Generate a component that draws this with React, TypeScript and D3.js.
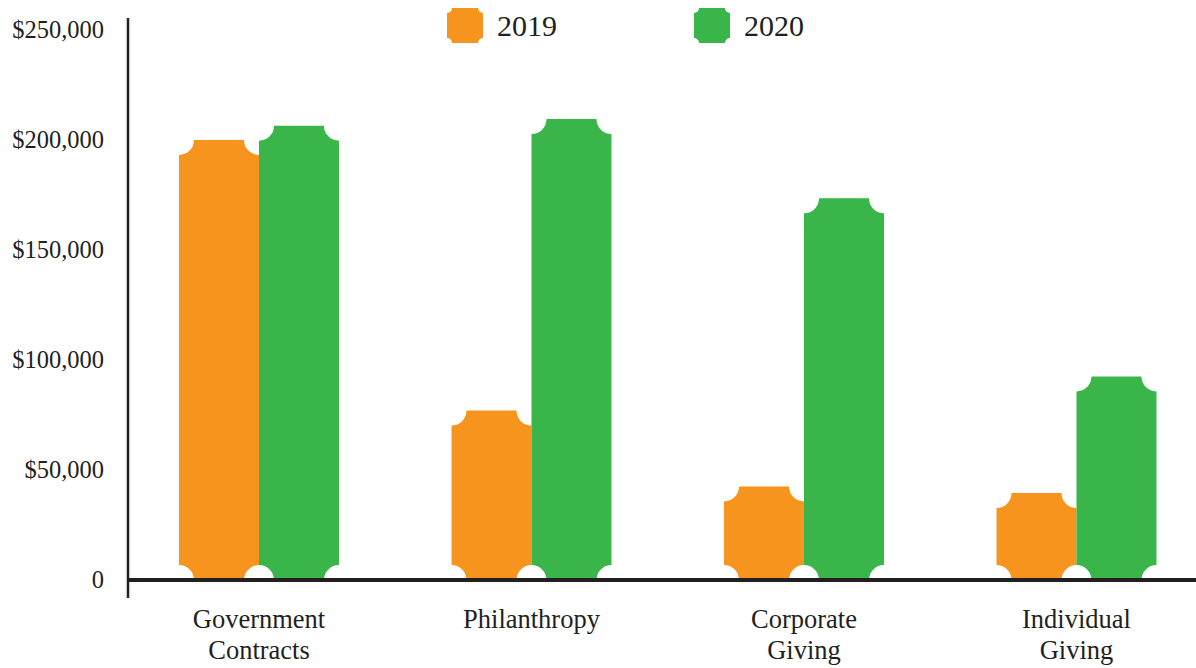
import * as d3 from 'd3'

const categories = ['Government Contracts', 'Philanthropy', 'Corporate Giving', 'Individual Giving']
const categoryLines = [['Government', 'Contracts'], ['Philanthropy'], ['Corporate', 'Giving'], ['Individual', 'Giving']]
const seriesNames = ['2019', '2020']
const values2019 = [200000, 77000, 42500, 39500]
const values2020 = [206500, 209500, 173500, 92500]
const yTicks = [0, 50000, 100000, 150000, 200000, 250000]

const W = 1196
const H = 668
const orange = '#F7941D'
const green = '#39B54A'
const ink = '#231F20'
const font = '"Liberation Serif", "Times New Roman", serif'

// rectangle with scooped (concave) corners
const scoopRect = (x0: number, y0: number, x1: number, y1: number, r: number) =>
  `M${x0},${y0 + r}A${r},${r} 0 0 0 ${x0 + r},${y0}` +
  `L${x1 - r},${y0}A${r},${r} 0 0 0 ${x1},${y0 + r}` +
  `L${x1},${y1 - r}A${r},${r} 0 0 0 ${x1 - r},${y1}` +
  `L${x0 + r},${y1}A${r},${r} 0 0 0 ${x0},${y1 - r}Z`

const App = () => {
  const y = d3.scaleLinear().domain([0, 250000]).range([580, 30])
  const x = d3
    .scaleBand()
    .domain(categories)
    .range([122.75, 1212.75])
    .paddingInner(0.413)
    .paddingOuter(0.2065)
  const sub = d3.scaleBand().domain(seriesNames).range([0, x.bandwidth()])
  const colors = [orange, green]
  const series = [values2019, values2020]
  const fmt = d3.format(',')

  return (
    <svg
      width={W}
      height={H}
      style={{ position: 'absolute', left: 0, top: 0, background: '#fff' }}
      fontFamily={font}
    >
      {series.map((vals, si) =>
        categories.map((c, ci) => {
          const x0 = (x(c) ?? 0) + (sub(seriesNames[si]) ?? 0)
          const x1 = x0 + sub.bandwidth()
          return (
            <path
              key={`${si}-${ci}`}
              d={scoopRect(x0, y(vals[ci]), x1, y(0), 15)}
              fill={colors[si]}
            />
          )
        }),
      )}

      {/* axes */}
      <line x1={128} x2={128} y1={18} y2={598} stroke={ink} strokeWidth={2.5} />
      <line x1={127} x2={W} y1={y(0)} y2={y(0)} stroke={ink} strokeWidth={4} />

      {yTicks.map((t) => (
        <text
          key={t}
          x={104}
          y={y(t)}
          dy="0.33em"
          textAnchor="end"
          fontSize={24.5}
          fill={ink}
        >
          {t === 0 ? '0' : `$${fmt(t)}`}
        </text>
      ))}

      {categories.map((c, ci) => (
        <text
          key={c}
          x={(x(c) ?? 0) + x.bandwidth() / 2}
          textAnchor="middle"
          fontSize={26.5}
          fill={ink}
        >
          {categoryLines[ci].map((line, li) => (
            <tspan key={li} x={(x(c) ?? 0) + x.bandwidth() / 2} y={628 + li * 31}>
              {line}
            </tspan>
          ))}
        </text>
      ))}

      {/* legend */}
      {seriesNames.map((s, si) => {
        const lx = 447 + si * 247
        return (
          <g key={s}>
            <path d={scoopRect(lx, 8, lx + 36, 43, 5)} fill={colors[si]} />
            <text x={lx + 50} y={36} fontSize={30} fill={ink}>
              {s}
            </text>
          </g>
        )
      })}
    </svg>
  )
}

export default App
